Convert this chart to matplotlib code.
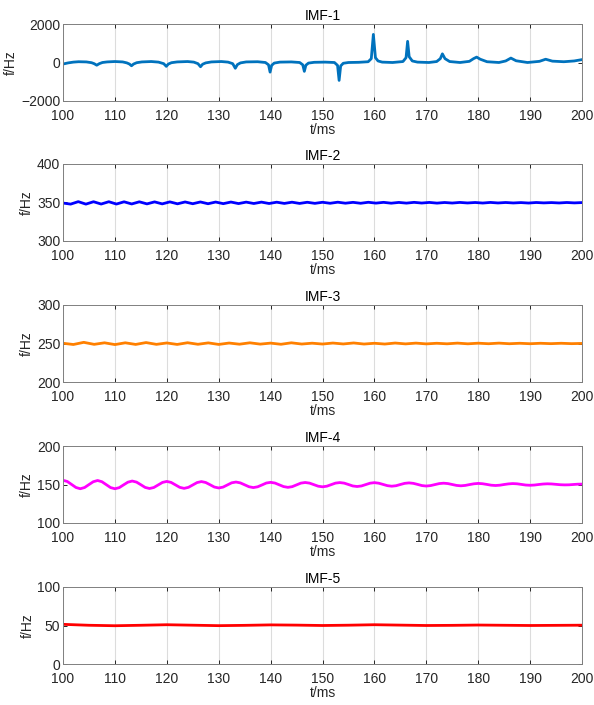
import numpy as np
import matplotlib
matplotlib.use('Agg')
import matplotlib.pyplot as plt

### Instantaneous frequency of the 5 IMFs, 100-200 ms

# IMF-1: dips before 156 ms, spikes after (read point by point)
imf1_t = [100, 101, 102, 103, 104.5, 105.5, 106.0, 106.5, 107.0, 107.6, 108.5, 110,
          111.5, 112.3, 112.8, 113.2, 113.6, 114.2, 115.2, 117, 118.4, 119.4, 119.9, 120.3,
          120.9, 122, 124, 125.2, 126.0, 126.5, 126.9, 127.5, 128.6, 130.5, 131.8, 132.7,
          133.2, 133.6, 134.2, 135.3, 137.5, 139.0, 139.6, 139.9, 140.2, 140.7, 141.8, 144,
          145.6, 146.2, 146.5, 146.8, 147.3, 148.4, 150.5, 152.3, 152.9, 153.2, 153.5, 154.0,
          155, 157, 158.8, 159.4, 159.8, 160.2, 160.7, 161.5, 163.5, 165.5, 166.1, 166.4,
          166.7, 167.3, 168.3, 170.5, 172.0, 172.7, 173.1, 173.6, 174.5, 176.5, 178.3, 179.1,
          179.7, 180.4, 181.7, 184, 185.3, 186.3, 187.3, 189.5, 191.8, 193.0, 194.3, 196.5,
          198.5, 200]
imf1_f = [-80, -20, 20, 40, 30, -10, -60, -140, -60, 0, 30, 50,
          30, -20, -80, -170, -80, -10, 30, 50, 20, -60, -200, -80,
          -10, 30, 50, 20, -60, -220, -90, -20, 30, 50, 20, -60,
          -300, -110, -20, 30, 40, 0, -120, -500, -150, -30, 20, 30,
          0, -120, -460, -140, -30, 10, 20, 0, -150, -930, -180, -40,
          0, 10, 40, 200, 1460, 250, 80, 20, 0, 50, 250, 1100,
          300, 80, 20, 0, 50, 200, 450, 200, 50, 0, 60, 200,
          280, 170, 40, 0, 80, 230, 90, 0, 60, 170, 70, 40,
          80, 150]

# IMF-2: small ripple round 350 Hz, one value per half period
imf2_f = [349.3, 347.9, 351.1, 347.9, 351.0, 348.0, 351.0, 348.0, 350.9, 348.1,
          350.9, 348.2, 350.8, 348.2, 350.8, 348.3, 350.7, 348.4, 350.7, 348.4,
          350.6, 348.5, 350.6, 348.6, 350.5, 348.7, 350.5, 348.7, 350.4, 348.8,
          350.4, 348.8, 350.3, 348.9, 350.3,
          349.0, 350.4, 349.1, 350.2, 349.0, 350.3, 349.2, 350.2, 349.1, 350.1,
          349.2, 350.2, 349.3, 350.1, 349.2, 350.0, 349.3, 350.1, 349.4, 350.0,
          349.3, 350.1, 349.4, 350.0, 349.4, 349.9, 349.3, 350.0, 349.5, 349.9,
          349.4, 350.0, 349.5, 349.9]

# IMF-3: ripple round 250 Hz, every 2 ms
imf3_f = [250.3, 248.7, 251.5, 248.9, 250.9, 248.6, 250.9, 248.8, 251.2, 248.9,
          250.7, 248.8, 251.0, 249.0, 250.8, 248.8, 250.6, 249.1, 250.9, 249.2,
          250.5, 249.0, 250.9, 249.3, 250.4, 249.3, 250.6, 249.4, 250.7, 249.3,
          250.3, 249.3, 250.6, 249.5, 250.5, 249.5, 250.3, 249.6, 250.5, 249.6,
          250.4, 249.7, 250.5, 249.7, 250.3, 249.7, 250.3, 249.8, 250.3, 249.8,
          250.1]

# IMF-4: decaying wave round 150 Hz, 8 values per period (~6.67 ms)
imf4_f = [155.5, 153.9, 150.0, 146.1, 144.5, 146.1, 149.9, 153.6,
          155.2, 153.6, 149.8, 146.0, 144.5, 145.9, 149.5, 153.0,
          154.5, 153.1, 149.7, 146.2, 144.8, 146.1, 149.4, 152.7,
          154.0, 152.7, 149.5, 146.3, 145.0, 146.3, 149.4, 152.5,
          153.8, 152.6, 149.7, 146.7, 145.5, 146.6, 149.4, 152.2,
          153.2, 152.1, 149.6, 147.1, 146.0, 147.0, 149.4, 151.9,
          152.8, 151.9, 149.6, 147.3, 146.3, 147.2, 149.5, 151.8,
          152.6, 151.8, 149.8, 147.8, 147.0, 147.8, 149.8, 151.8,
          152.5, 151.8, 150.0, 148.1, 147.4, 148.1, 149.9, 151.7,
          152.4, 151.7, 150.1, 148.5, 147.8, 148.4, 150.0, 151.5,
          152.1, 151.5, 150.1, 148.6, 148.0, 148.6, 149.9, 151.2,
          151.7, 151.2, 150.0, 148.8, 148.3, 148.8, 149.9, 150.9,
          151.4, 151.0, 150.1, 149.1, 148.7, 149.1, 150.0, 150.8,
          151.2, 150.9, 150.1, 149.3, 149.0, 149.3, 150.0, 150.6,
          150.9, 150.7, 150.2, 149.7, 149.5, 149.6, 150.0, 150.4,
          150.5]

# IMF-5: almost flat round 50 Hz, every 5 ms
imf5_f = [51.5, 50.3, 49.7, 50.3, 51.0, 50.4, 49.8, 50.2, 50.8, 50.5,
          50.0, 50.4, 51.0, 50.5, 50.0, 50.2, 50.6, 50.3, 50.0, 50.2, 50.4]

titles = ['IMF-1', 'IMF-2', 'IMF-3', 'IMF-4', 'IMF-5']
colors = ['#0072BD', '#0000FF', '#FF8000', '#FF00FF', '#FF0000']
ylims = [(-2000, 2000), (300, 400), (200, 300), (100, 200), (0, 100)]
yticks = [[-2000, 0, 2000], [300, 350, 400], [200, 250, 300], [100, 150, 200], [0, 50, 100]]
xticks = [100, 110, 120, 130, 140, 150, 160, 170, 180, 190, 200]

series = [
    (imf1_t, imf1_f),
    (np.linspace(100, 200, len(imf2_f)), imf2_f),
    (np.linspace(100, 200, len(imf3_f)), imf3_f),
    (np.linspace(100, 200, len(imf4_f)), imf4_f),
    (np.linspace(100, 200, len(imf5_f)), imf5_f),
]

plt.rcParams['font.family'] = ['Liberation Sans', 'DejaVu Sans']

fig = plt.figure(figsize=(5.94, 7.05), dpi=100)

# panel tops in pixels, each panel 77 px high
tops = [24, 164, 305, 446, 587]
axcol = '#262626'

for i, (t, f) in enumerate(series):
    ax = fig.add_axes([63 / 594, 1 - (tops[i] + 77) / 705, 519 / 594, 77 / 705])
    ax.plot(t, f, color=colors[i], lw=2.0, solid_joinstyle='round')
    ax.set_xlim(100, 200)
    ax.set_ylim(*ylims[i])
    ax.set_xticks(xticks)
    ax.set_yticks(yticks[i])
    ax.grid(axis='x', color='#DCDCDC', lw=0.8)
    ax.tick_params(direction='in', top=True, right=True, length=3, width=0.7,
                   colors=axcol, labelsize=10)
    ax.tick_params(axis='y', pad=2)
    ax.tick_params(axis='x', pad=6)
    for s in ax.spines.values():
        s.set_color('#808080')
        s.set_linewidth(0.7)
    ax.set_title(titles[i], fontsize=10, color='black', pad=3)
    ax.set_xlabel('t/ms', fontsize=10, color=axcol, labelpad=0)
    ax.set_ylabel('f/Hz', fontsize=10, color=axcol, labelpad=2)

fig.savefig('out.png', dpi=100)
